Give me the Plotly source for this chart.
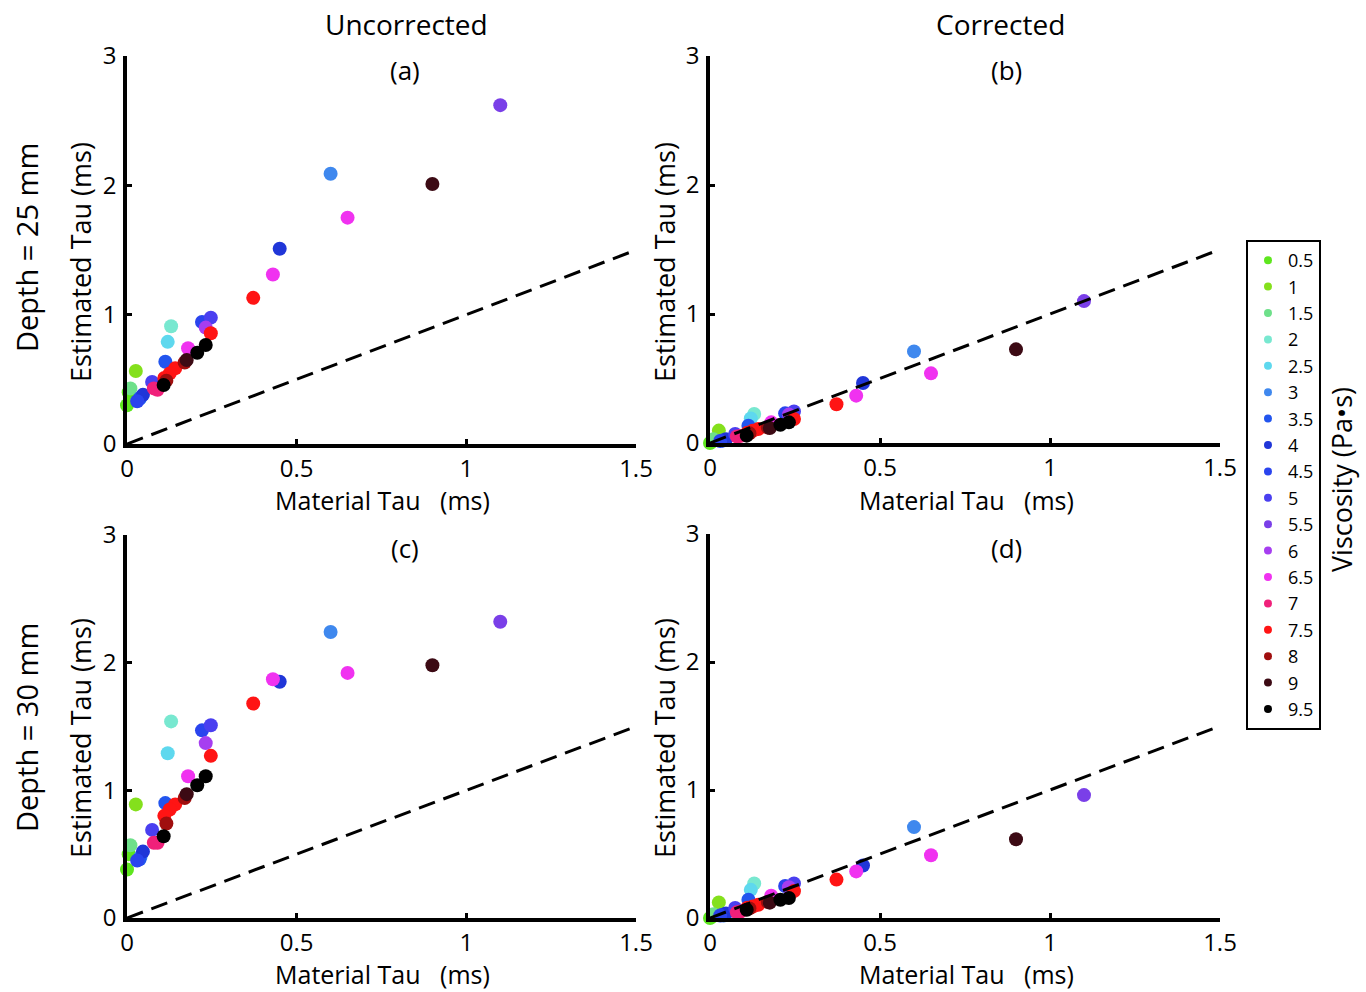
import plotly.graph_objects as go

# ---------------- data ----------------
visc_levels = [0.5, 1, 1.5, 2, 2.5, 3, 3.5, 4, 4.5, 5, 5.5, 6, 6.5, 7, 7.5, 8, 9, 9.5]
visc_colors = ["#5ee61e", "#84e01c", "#6ee08a", "#78e8d0", "#5ed8ee", "#3f88ee",
               "#2255ee", "#2036d8", "#2a44ee", "#4a3ff0", "#7a3fe8", "#a63ef0",
               "#f032f0", "#f0207a", "#ff1414", "#a00e0e", "#3c0a14", "#000000"]

pt_visc = [5.5, 3, 9, 6.5, 4, 6.5, 7.5, 2, 2.5, 4.5, 5, 6, 7.5, 6.5, 9.5, 9.5, 9, 8,
           7.5, 7.5, 7.5, 8, 3.5, 9.5, 5, 7, 7, 3.5, 4, 1, 1.5, 0.5, 0.5, 4.5, 3]
material_tau = [1.10, 0.60, 0.90, 0.65, 0.45, 0.43, 0.372, 0.13, 0.12, 0.221, 0.247, 0.232,
                0.247, 0.18, 0.232, 0.207, 0.176, 0.17, 0.142, 0.126, 0.11, 0.116, 0.113,
                0.108, 0.074, 0.079, 0.09, 0.037, 0.047, 0.026, 0.01, 0.0, 0.005, 0.03, 0.04]
est_a = [2.62, 2.09, 2.01, 1.75, 1.51, 1.31, 1.13, 0.91, 0.79, 0.943, 0.977, 0.90,
         0.856, 0.74, 0.765, 0.706, 0.65, 0.63, 0.585, 0.546, 0.51, 0.49, 0.636,
         0.456, 0.48, 0.43, 0.42, 0.35, 0.38, 0.565, 0.43, 0.30, 0.40, 0.33, 0.36]
est_b = [1.10, 0.71, 0.726, 0.54, 0.465, 0.367, 0.30, 0.225, 0.19, 0.23, 0.245, 0.22,
         0.186, 0.16, 0.16, 0.142, 0.116, 0.12, 0.108, 0.095, 0.08, 0.075, 0.134,
         0.057, 0.07, 0.05, 0.055, 0.02, 0.03, 0.096, 0.03, 0.0, 0.01, 0.015, 0.02]
est_c = [2.32, 2.24, 1.98, 1.92, 1.85, 1.87, 1.68, 1.54, 1.29, 1.47, 1.51, 1.37,
         1.27, 1.11, 1.11, 1.04, 0.97, 0.94, 0.89, 0.85, 0.80, 0.74, 0.90,
         0.64, 0.69, 0.59, 0.59, 0.46, 0.52, 0.89, 0.57, 0.38, 0.50, 0.45, 0.48]
est_d = [0.96, 0.71, 0.615, 0.49, 0.41, 0.364, 0.30, 0.27, 0.22, 0.25, 0.27, 0.24,
         0.21, 0.174, 0.156, 0.143, 0.12, 0.125, 0.104, 0.09, 0.08, 0.075, 0.143,
         0.065, 0.078, 0.044, 0.05, 0.026, 0.035, 0.122, 0.03, 0.0, 0.01, 0.02, 0.02]

identity_x = [0, 1.5]
identity_y = [0, 1.5]

x_ticks = [0, 0.5, 1, 1.5]
x_tick_text = ["0", "0.5", "1", "1.5"]
y_ticks = [0, 1, 2, 3]
y_tick_text = ["0", "1", "2", "3"]

panel_labels = ["(a)", "(b)", "(c)", "(d)"]

# ---------------- figure ----------------
W, H = 1366, 992
FONT = "Open Sans"

def px_x(p):
    return p / W

def px_y(p):
    return 1 - p / H

# panel pixel boxes: (left, right, top, bottom)
boxes = [(127, 636, 56, 444), (710, 1220, 56, 443),
         (127, 636, 535, 918), (710, 1220, 534, 918)]
panels = [est_a, est_b, est_c, est_d]

fig = go.Figure()

color_of = dict(zip(visc_levels, visc_colors))
order = sorted(range(len(pt_visc)), key=lambda i: pt_visc[i])

layout_axes = {}
for k, (box, est) in enumerate(zip(boxes, panels)):
    xa = "x" if k == 0 else f"x{k+1}"
    ya = "y" if k == 0 else f"y{k+1}"
    fig.add_trace(go.Scatter(
        x=[material_tau[i] for i in order],
        y=[est[i] for i in order],
        mode="markers",
        marker=dict(size=14, color=[color_of[pt_visc[i]] for i in order], line=dict(width=0)),
        xaxis=xa, yaxis=ya, showlegend=False, cliponaxis=False, hoverinfo="x+y",
    ))
    fig.add_trace(go.Scatter(
        x=identity_x, y=identity_y, mode="lines",
        line=dict(color="black", width=3, dash="17px,9px"),
        xaxis=xa, yaxis=ya, showlegend=False, hoverinfo="skip",
    ))
    l, r, t, b = box
    axis_common = dict(showline=True, linewidth=3.5, linecolor="black", ticks="inside",
                       ticklen=5, tickwidth=2.5, tickcolor="black", showgrid=False,
                       zeroline=False, tickfont=dict(family=FONT, size=24, color="black"))
    layout_axes["xaxis" if k == 0 else f"xaxis{k+1}"] = dict(
        domain=[px_x(l), px_x(r)], range=[0, 1.5], anchor=ya,
        tickvals=x_ticks, ticktext=x_tick_text, ticklabelstandoff=0, **axis_common)
    layout_axes["yaxis" if k == 0 else f"yaxis{k+1}"] = dict(
        domain=[px_y(b), px_y(t)], range=[0, 3], anchor=xa,
        tickvals=y_ticks, ticktext=y_tick_text, ticklabelstandoff=2, **axis_common)

# legend-only traces
for v, c in zip(visc_levels, visc_colors):
    fig.add_trace(go.Scatter(x=[None], y=[None], mode="markers", name=f"{v:g}",
                             marker=dict(size=8, color=c), showlegend=True))

annotations = []
def ann(text, x, y, size, angle=0):
    annotations.append(dict(text=text, x=px_x(x), y=px_y(y), xref="paper", yref="paper",
                            showarrow=False, textangle=angle, xanchor="center", yanchor="middle",
                            font=dict(family=FONT, size=size, color="black")))

ann("Uncorrected", 406, 24, 28)
ann("Corrected", 1000, 24, 28)
for lab, (x, y) in zip(panel_labels, [(405, 70), (1006, 70), (405, 548), (1006, 548)]):
    ann(lab, x, y, 26)
for (x, y) in [(382, 500), (967, 500), (382, 974), (967, 974)]:
    ann("Material Tau   (ms)", x, y, 25)
for (x, y) in [(80, 262), (664, 262), (80, 738), (664, 738)]:
    ann("Estimated Tau (ms)", x, y, 27, -90)
ann("Depth = 25 mm", 26, 248, 29, -90)
ann("Depth = 30 mm", 26, 728, 29, -90)
ann("Viscosity (Pa\u2022s)", 1341, 480, 27, -90)

fig.update_layout(
    width=W, height=H, margin=dict(l=0, r=0, t=0, b=0, pad=0, autoexpand=False),
    plot_bgcolor="white", paper_bgcolor="white",
    annotations=annotations,
    legend=dict(x=px_x(1246), y=px_y(240), xanchor="left", yanchor="top",
                bordercolor="black", borderwidth=2, bgcolor="white",
                font=dict(family=FONT, size=18, color="black"),
                itemwidth=30, tracegroupgap=0),
    **layout_axes,
)

fig.write_html("out.html")
